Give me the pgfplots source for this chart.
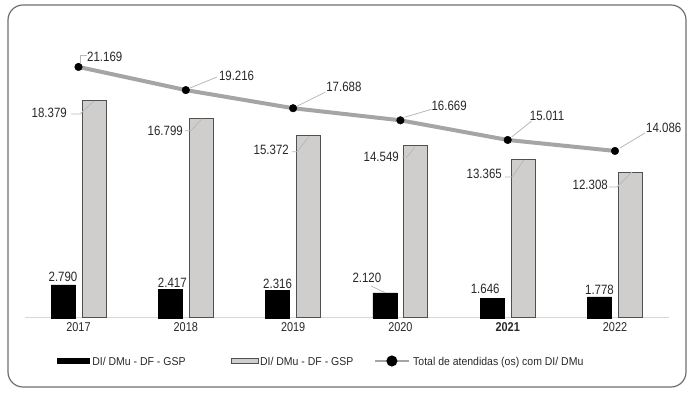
\documentclass[border=0pt]{standalone}
\usepackage{fontspec}
\setmainfont{Liberation Sans}[FakeStretch=0.85]
\newfontfamily\legfont{Liberation Sans}[FakeStretch=0.92]
\usepackage{pgfplots}
\pgfplotsset{compat=1.18}
\usetikzlibrary{calc}
\definecolor{barGray}{RGB}{208,205,205}
\definecolor{barEdge}{RGB}{80,80,80}
\definecolor{lineGray}{RGB}{165,165,165}
\definecolor{leaderGray}{RGB}{185,185,185}
\definecolor{txt}{RGB}{40,40,40}
\definecolor{baseGray}{RGB}{215,215,215}
\definecolor{frameGray}{RGB}{110,110,110}
\begin{document}
\begin{tikzpicture}[
  lbl/.style={font=\fontsize{13.5}{16}\selectfont, text=txt, inner sep=0pt},
  leader/.style={leaderGray, line width=0.8pt}]
\useasboundingbox (0,0) rectangle (693pt,395pt);
\draw[frameGray, line width=1.2pt, rounded corners=15pt] (8pt,8pt) rectangle (686pt,390pt);
\begin{axis}[
  at={(24.85pt,77pt)}, anchor=south west,
  scale only axis, width=643.8pt, height=296.5pt,
  xmin=-0.5, xmax=5.5, ymin=0, ymax=25000,
  axis x line*=bottom, axis y line=none,
  x axis line style={baseGray, line width=1pt},
  xtick={0,1,2,3,4,5},
  xticklabels={2017,2018,2019,2020,\textbf{2021},2022},
  major tick length=0pt, ytick=\empty,
  xticklabel style={font=\fontsize{12.8}{14}\selectfont, text=txt, inner sep=0pt, yshift=-4.5pt},
  clip=false,
  legend columns=3,
  legend cell align=left,
  legend style={at={(0.0504,-0.1467)}, anchor=west, draw=none, fill=none, inner sep=0pt,
    font=\legfont\fontsize{11.4}{13}\selectfont, text=txt, nodes={inner sep=0pt},
    column sep=0pt},
]
\addplot[ybar, bar width=24pt, bar shift=-15.5pt, fill=black, draw=black,
  legend image code/.code={\fill[black] (0pt,-1pt) rectangle (32pt,4pt);}]
  coordinates {(0,2790) (1,2417) (2,2316) (3,2120) (4,1646) (5,1778)};
\addlegendentry{\makebox[140.7pt][l]{\hspace{2.4pt}DI/ DMu - DF - GSP}}
\addplot[ybar, bar width=24pt, bar shift=15.5pt, fill=barGray, draw=barEdge, line width=1pt,
  legend image code/.code={\draw[fill=barGray, draw=barEdge, line width=0.8pt] (0.4pt,-1.1pt) rectangle (27.9pt,4.1pt);}]
  coordinates {(0,18379) (1,16799) (2,15372) (3,14549) (4,13365) (5,12308)};
\addlegendentry{\makebox[115pt][l]{\hspace{1.2pt}DI/ DMu - DF - GSP}}
\addplot[lineGray, line width=4pt, mark=*, mark size=3.8pt,
  mark options={solid, fill=black, draw=black, line width=0.4pt},
  legend image code/.code={\draw[lineGray, line width=2.6pt] (0pt,1.5pt) -- (33.4pt,1.5pt); \fill[black] (16.7pt,1.5pt) circle (3.4pt);}]
  coordinates {(0,21169) (1,19216) (2,17688) (3,16669) (4,15011) (5,14086)};
\addlegendentry{\hspace{3.3pt}Total de atendidas (os) com DI/ DMu}

% line labels
\draw[leader] ($(axis cs:0,21169)+(1.5pt,4pt)$) -- ($(axis cs:0,21169)+(1.5pt,11.3pt)$) -- ($(axis cs:0,21169)+(8pt,11.3pt)$);
\node[lbl, anchor=west] at ($(axis cs:0,21169)+(8.5pt,10pt)$) {21.169};
\draw[leader] ($(axis cs:1,19216)+(4pt,2pt)$) -- ($(axis cs:1,19216)+(31pt,13pt)$);
\node[lbl, anchor=west] at ($(axis cs:1,19216)+(33pt,14pt)$) {19.216};
\draw[leader] ($(axis cs:2,17688)+(4pt,2pt)$) -- ($(axis cs:2,17688)+(32pt,16pt)$);
\node[lbl, anchor=west] at ($(axis cs:2,17688)+(33pt,21pt)$) {17.688};
\draw[leader] ($(axis cs:3,16669)+(4pt,3pt)$) -- ($(axis cs:3,16669)+(31pt,11pt)$);
\node[lbl, anchor=west] at ($(axis cs:3,16669)+(31pt,14pt)$) {16.669};
\draw[leader] ($(axis cs:4,15011)+(4pt,3pt)$) -- ($(axis cs:4,15011)+(24pt,19pt)$);
\node[lbl, anchor=west] at ($(axis cs:4,15011)+(22pt,24pt)$) {15.011};
\draw[leader] ($(axis cs:5,14086)+(5pt,3pt)$) -- ($(axis cs:5,14086)+(30pt,18pt)$);
\node[lbl, anchor=west] at ($(axis cs:5,14086)+(31pt,23pt)$) {14.086};

% gray bar labels
\draw[leader] ($(axis cs:0,18379)+(-7.5pt,-14pt)$) -- ($(axis cs:0,18379)+(1.5pt,-14pt)$) -- ($(axis cs:0,18379)+(15.5pt,-1pt)$);
\node[lbl, anchor=east] at ($(axis cs:0,18379)+(-11.5pt,-13pt)$) {18.379};
\draw[leader] ($(axis cs:1,16799)+(-0.8pt,-12pt)$) -- ($(axis cs:1,16799)+(5.2pt,-12pt)$) -- ($(axis cs:1,16799)+(16.2pt,0pt)$);
\node[lbl, anchor=east] at ($(axis cs:1,16799)+(-2.8pt,-11.7pt)$) {16.799};
\draw[leader] ($(axis cs:2,15372)+(-1.1pt,-16pt)$) -- ($(axis cs:2,15372)+(3.9pt,-16pt)$) -- ($(axis cs:2,15372)+(15.9pt,-1pt)$);
\node[lbl, anchor=east] at ($(axis cs:2,15372)+(-4.1pt,-14pt)$) {15.372};
\draw[leader] ($(axis cs:3,14549)+(1.6pt,-11.5pt)$) -- ($(axis cs:3,14549)+(6.6pt,-11.5pt)$) -- ($(axis cs:3,14549)+(14.6pt,-1.5pt)$);
\node[lbl, anchor=east] at ($(axis cs:3,14549)+(-1.4pt,-11.5pt)$) {14.549};
\draw[leader] ($(axis cs:4,13365)+(-2.7pt,-17.5pt)$) -- ($(axis cs:4,13365)+(4.3pt,-17.5pt)$) -- ($(axis cs:4,13365)+(16.3pt,-0.5pt)$);
\node[lbl, anchor=east] at ($(axis cs:4,13365)+(-5.7pt,-14.5pt)$) {13.365};
\draw[leader] ($(axis cs:5,12308)+(-6pt,-15pt)$) -- ($(axis cs:5,12308)+(2pt,-15pt)$) -- ($(axis cs:5,12308)+(17pt,0pt)$);
\node[lbl, anchor=east] at ($(axis cs:5,12308)+(-7pt,-13pt)$) {12.308};

% black bar labels
\node[lbl] at ($(axis cs:0,2790)+(-15.5pt,8.5pt)$) {2.790};
\node[lbl] at ($(axis cs:1,2417)+(-13.5pt,7pt)$) {2.417};
\node[lbl] at ($(axis cs:2,2316)+(-15.5pt,7pt)$) {2.316};
\draw[leader] ($(axis cs:3,2120)+(-29.5pt,7pt)$) -- ($(axis cs:3,2120)+(-15pt,0pt)$);
\node[lbl] at ($(axis cs:3,2120)+(-33.5pt,15pt)$) {2.120};
\node[lbl] at ($(axis cs:4,1646)+(-22.5pt,10pt)$) {1.646};
\node[lbl] at ($(axis cs:5,1778)+(-15.5pt,7pt)$) {1.778};
\end{axis}
\end{tikzpicture}
\end{document}
